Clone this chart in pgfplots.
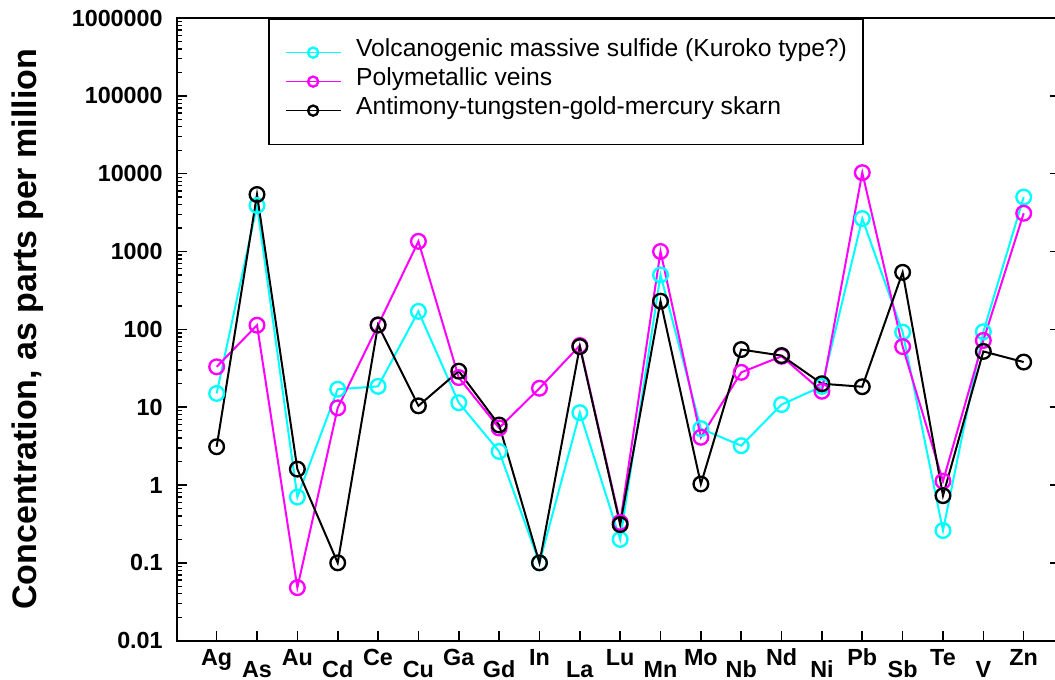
\documentclass[border=0pt]{standalone}
\usepackage{pgfplots}
\pgfplotsset{compat=1.18}
\usepackage{pgfplotstable}
\usepackage{fontspec}
\setmainfont{Liberation Sans}

\definecolor{vms}{RGB}{0,255,255}
\definecolor{poly}{RGB}{255,0,255}

% element, index, VMS, polymetallic veins, skarn (ppm)
\pgfplotstableread{
x   vms     poly    skarn
0   15      33      3.1
1   3900    113     5400
2   0.70    0.048   1.6
3   17      9.8     0.1
4   18.5    113     114
5   170     1350    10.4
6   11.4    24      29
7   2.7     5.4     5.9
8   0.1     17.5    0.1
9   8.5     62      60
10  0.2     0.33    0.31
11  500     1000    230
12  5.3     4.1     1.03
13  3.2     28      55
14  10.8    45      46
15  18.5    16      20
16  2650    10300   18.3
17  92      60      540
18  0.26    1.12    0.73
19  93      72      52
20  5000    3100    38
}\conc

\begin{document}
\begin{tikzpicture}
\begin{axis}[
    name=ax,
    scale only axis,
    width=662.5pt, height=467pt,
    ymode=log,
    xmin=-0.991, xmax=20.9,
    ymin=0.01, ymax=1000000,
    axis line style={line width=1.5pt},
    every tick/.style={black, line width=1.2pt},
    every minor tick/.style={black, line width=1pt, minor tick length=4pt},
    major tick length=7.5pt,
    minor tick length=4pt,
    tick align=inside,
    xtick pos=bottom,
    ytick pos=both,
    yticklabel pos=left,
    xtick={0,2,...,20},
    xticklabels={Ag,Au,Ce,Ga,In,Lu,Mo,Nd,Pb,Te,Zn},
    extra x ticks={1,3,...,19},
    extra x tick labels={As,Cd,Cu,Gd,La,Mn,Nb,Ni,Sb,V},
    extra x tick style={xticklabel style={yshift=-9pt}},
    xticklabel style={font=\fontsize{17.5}{17.5}\selectfont\bfseries,
        anchor=north, inner sep=0pt, text height=12.6pt, yshift=-5.5pt},
    % first entry belongs to the tick at 0.001, below ymin
    yticklabels={,0.01,0.1,1,10,100,1000,10000,100000,1000000},
    yticklabel style={font=\fontsize{17.5}{17.5}\selectfont\bfseries,
        anchor=east, inner sep=0pt, xshift=-10.3pt},
    ylabel={Concentration, as parts per million},
    ylabel style={at={(axis description cs:-0.1683,0.5)}, anchor=center,
        font=\fontsize{25.5}{25.5}\selectfont\bfseries},
    legend cell align=left,
    legend image code/.code={
        \draw[mark repeat=2, mark phase=2, #1, mark size=3.8pt, line width=1.3pt]
        plot coordinates {(0pt,0pt) (20.6pt,0pt) (41.2pt,0pt)};
    },
    legend style={at={(axis description cs:0.1034,1)}, anchor=north west,
        draw=black, line width=1.2pt, fill=white,
        inner xsep=12pt, inner ysep=14.5pt,
        column sep=11pt, row sep=0pt,
        font=\fontsize{18.5}{18.5}\selectfont,
        nodes={inner xsep=0pt, inner ysep=0pt, text height=14pt, text depth=7.75pt}},
]
\addplot[vms, line width=1.5pt, mark=o, mark size=5.5pt,
    mark options={line width=1.75pt}] table[x=x, y=vms] {\conc};
\addlegendentry{Volcanogenic massive sulfide (Kuroko type?)}
\addplot[poly, line width=1.5pt, mark=o, mark size=5.5pt,
    mark options={line width=1.75pt}] table[x=x, y=poly] {\conc};
\addlegendentry{Polymetallic veins}
\addplot[black, line width=1.5pt, mark=o, mark size=5.5pt,
    mark options={line width=1.75pt}] table[x=x, y=skarn] {\conc};
\addlegendentry{Antimony-tungsten-gold-mercury skarn}
\end{axis}
\pgfresetboundingbox
\useasboundingbox ([xshift=-132.5pt,yshift=-29.5pt]ax.south west)
    rectangle ([xshift=-3.75pt,yshift=13.5pt]ax.north east);
\end{tikzpicture}
\end{document}
